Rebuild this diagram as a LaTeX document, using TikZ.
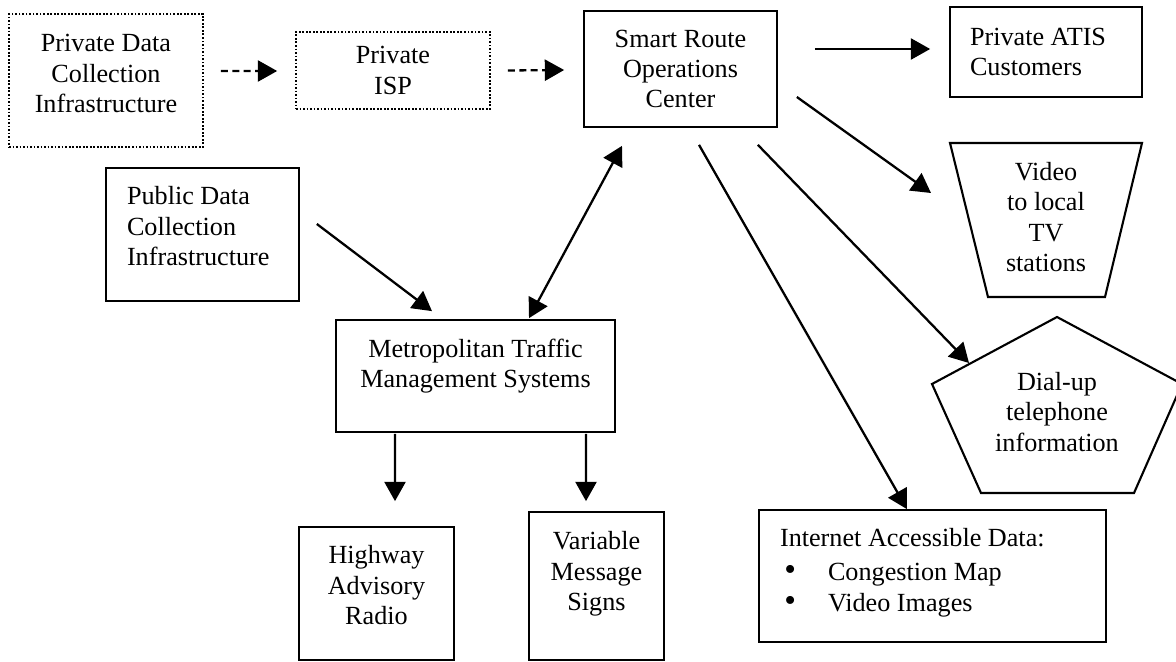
\documentclass[tikz,border=0pt]{standalone}
\usepackage{fontspec}
\setmainfont{Liberation Serif}
\usetikzlibrary{arrows.meta}
\newcommand{\lift}[1]{\rule[-#1]{0pt}{#1}}
\newcommand{\itemdot}{\makebox[0.96cm][l]{\,{\fontsize{19}{19}\selectfont\textbullet}}}
\begin{document}
\begin{tikzpicture}[x=0.02cm, y=-0.02cm,
    every node/.style={font=\fontsize{14.9}{17.3}\selectfont},
    sysbox/.style={draw, line width=1pt, align=center},
    dotbox/.style={sysbox, densely dotted},
    listbox/.style={sysbox, align=flush left},
    outline/.style={line width=1.2pt, line join=miter},
    arr/.style={line width=1.3pt, -{Triangle[length=11pt,width=12pt]}},
    dblarr/.style={line width=1.3pt, {Triangle[length=11pt,width=12pt]}-{Triangle[length=11pt,width=12pt]}},
    darr/.style={arr, dash pattern=on 4pt off 2.5pt}]
     \useasboundingbox (0,0) rectangle (1176,662);
     \node[dotbox, minimum width=3.88cm, minimum height=2.66cm] (priv) at (106,80.5) {Private Data\\Collection\\Infrastructure\lift{0.28cm}};
     \node[dotbox, minimum width=3.88cm, minimum height=1.54cm] (isp) at (393,70.5) {Private\\ISP};
     \node[sysbox, minimum width=3.86cm, minimum height=2.32cm] (smart) at (680.5,69) {Smart Route\\Operations\\Center};
     \node[listbox, text width=3.04cm, inner xsep=0.4cm, minimum width=3.84cm, minimum height=1.8cm] (atis) at (1046,52) {Private ATIS\\Customers};
     \node[listbox, text width=3.02cm, inner xsep=0.42cm, minimum width=3.86cm, minimum height=2.66cm] (pub) at (202.5,234.5) {Public Data\\Collection\\Infrastructure\lift{0.34cm}};
     \node[sysbox, minimum width=5.58cm, minimum height=2.24cm] (metro) at (475.5,376) {Metropolitan Traffic\\Management Systems\lift{0.52cm}};
     \node[sysbox, minimum width=3.1cm, minimum height=2.66cm] (hwy) at (376.5,593.5) {Highway\\Advisory\\Radio\lift{0.34cm}};
     \node[sysbox, minimum width=2.7cm, minimum height=2.96cm] (vms) at (596.5,586) {Variable\\Message\\Signs\lift{0.6cm}};
     \node[listbox, text width=6.1cm, inner xsep=0.42cm, minimum width=6.94cm, minimum height=2.64cm] (inet) at (932.5,576) {Internet Accessible Data:\\[2pt]\itemdot Congestion Map\\\itemdot Video Images\lift{0.24cm}};
     \node[align=center] (video) at (1046,217) {Video\\to local\\TV\\stations};
     \draw[outline] (950,143) -- (1142,143) -- (1105,297) -- (988,297) -- cycle;
     \node[align=center] (dial) at (1057,412) {Dial-up\\telephone\\information};
     \draw[outline] (1057,317) -- (1182,384) -- (1134,493) -- (981,493) -- (932,384) -- cycle;
     \draw[darr] ([shift={(17,-9.5)}]priv.east) -- ([shift={(-18,0.5)}]isp.west);
     \draw[darr] ([shift={(17,0)}]isp.east) -- ([shift={(-19,1)}]smart.west);
     \draw[arr] ([shift={(37,-20)}]smart.east) -- ([shift={(-19,-3)}]atis.west);
     \draw[arr] ([shift={(19,28)}]smart.east) -- ([shift={(-115,-24)}]video.center);
     \draw[arr] ([shift={(-20,17)}]smart.south east) -- ([shift={(-88,-49)}]dial.center);
     \draw[arr] ([shift={(18.5,17)}]smart.south) -- ([shift={(-25.5,0)}]inet.north);
     \draw[dblarr] ([shift={(53.5,-1)}]metro.north) -- ([shift={(-58.5,18)}]smart.south);
     \draw[arr] ([shift={(17,-10.5)}]pub.east) -- ([shift={(-43.5,-8)}]metro.north);
     \draw[arr] ([shift={(-80.5,1)}]metro.south) -- ([shift={(18.5,-25)}]hwy.north);
     \draw[arr] ([shift={(110.5,1)}]metro.south) -- ([shift={(-10.5,-10)}]vms.north);
 \end{tikzpicture}
\end{document}
